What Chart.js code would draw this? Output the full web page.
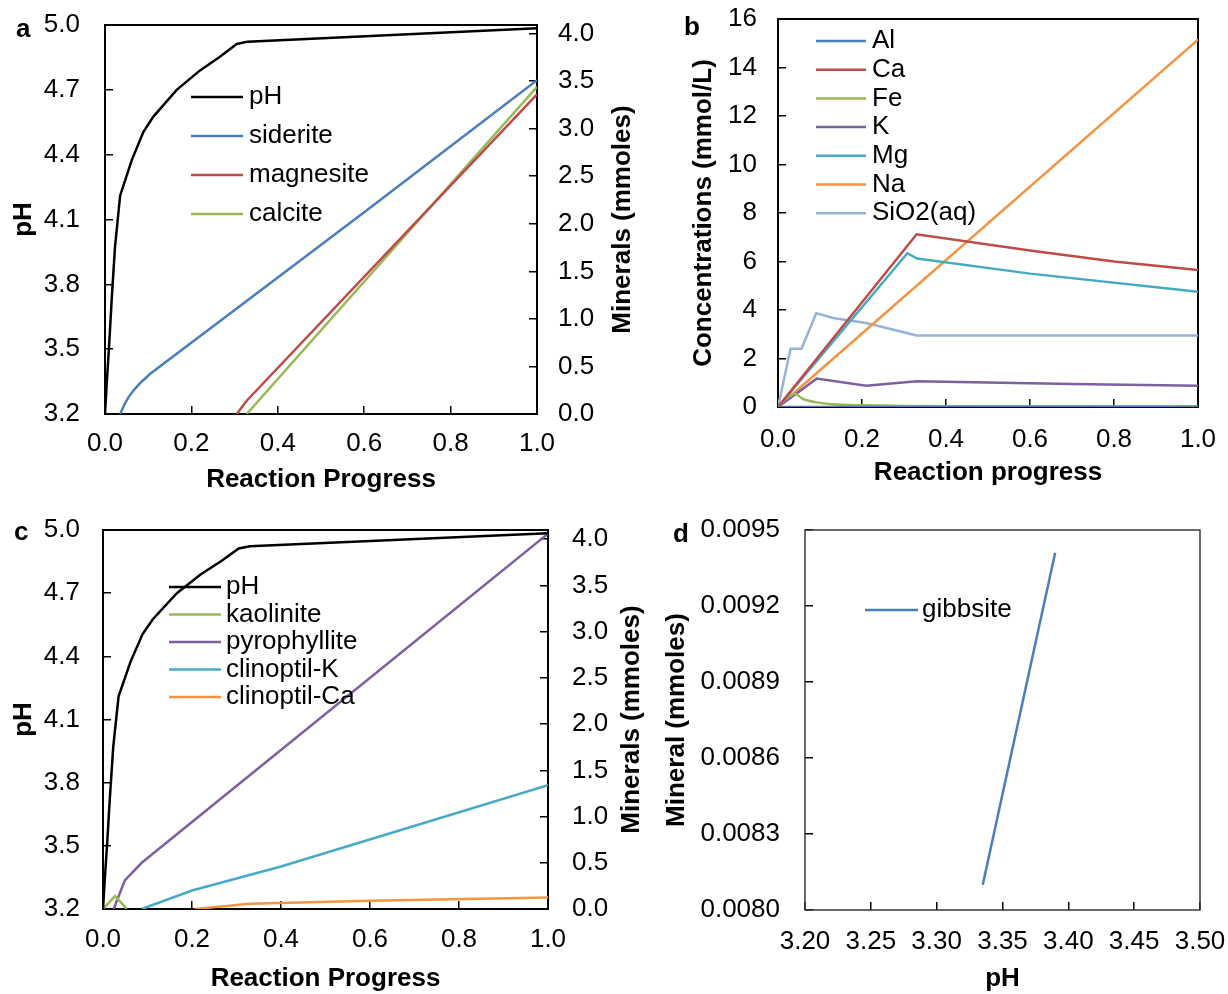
<!DOCTYPE html>
<html>
<head>
<meta charset="utf-8">
<title>Reaction progress</title>
<script src="https://cdn.jsdelivr.net/npm/chart.js@4.4.1/dist/chart.umd.min.js"></script>
<style>
  html, body { margin: 0; padding: 0; background: #fff; }
  #wrap { position: relative; width: 1228px; height: 994px; overflow: hidden; }
  #wrap canvas { position: absolute; left: 0; top: 0; }
</style>
</head>
<body>
<div id="wrap">
  <canvas id="panelA" width="1228" height="994"></canvas>
  <canvas id="panelB" width="1228" height="994"></canvas>
  <canvas id="panelC" width="1228" height="994"></canvas>
  <canvas id="panelD" width="1228" height="994"></canvas>
</div>
<script>
// pH along the reaction path (panels a and c)
const phProgress = [0, 0.004, 0.009, 0.0155, 0.023, 0.035, 0.062, 0.089, 0.112, 0.166, 0.22, 0.266, 0.305, 0.33, 1.0];
const phValues   = [3.2, 3.34, 3.50, 3.73, 3.97, 4.21, 4.375, 4.506, 4.576, 4.70, 4.79, 4.853, 4.912, 4.923, 4.985];

// a: carbonate minerals (mmoles)
const sideriteX  = [0.035, 0.04, 0.045, 0.055, 0.0655, 0.08, 0.104, 0.6, 1.0];
const sideriteY  = [0, 0.05, 0.1, 0.18, 0.245, 0.32, 0.42, 2.12, 3.51];
const magnesiteX = [0.305, 0.328, 1.0];
const magnesiteY = [0, 0.14, 3.36];
const calciteX   = [0.328, 1.0];
const calciteY   = [0, 3.44];

// b: dissolved concentrations (mmol/L)
const alX   = [0, 1.0];
const alY   = [0, 0.01];
const caX   = [0, 0.33, 0.6, 0.8, 1.0];
const caY   = [0, 7.12, 6.45, 6.0, 5.65];
const feX   = [0, 0.02, 0.04, 0.06, 0.1, 0.13, 0.2, 0.4, 1.0];
const feY   = [0, 0.35, 0.54, 0.33, 0.17, 0.11, 0.07, 0.03, 0.02];
const kX    = [0, 0.092, 0.21, 0.33, 0.7, 1.0];
const kY    = [0, 1.17, 0.88, 1.06, 0.95, 0.88];
const mgX   = [0, 0.308, 0.331, 0.6, 1.0];
const mgY   = [0, 6.34, 6.12, 5.5, 4.75];
const naX   = [0, 1.0];
const naY   = [0, 15.15];
const sio2X = [0, 0.03, 0.056, 0.091, 0.131, 0.21, 0.33, 1.0];
const sio2Y = [0, 2.4, 2.4, 3.87, 3.67, 3.46, 2.95, 2.95];

// c: silicate minerals (mmoles)
const kaoliniteX    = [0, 0.027, 0.05, 0.053];
const kaoliniteY    = [0, 0.14, 0.02, 0];
const pyrophylliteX = [0.024, 0.049, 0.087, 1.0];
const pyrophylliteY = [0, 0.31, 0.5, 4.06];
const clinoKX       = [0.087, 0.2, 0.4, 1.0];
const clinoKY       = [0, 0.2, 0.46, 1.34];
const clinoCaX      = [0.206, 0.33, 0.6, 1.0];
const clinoCaY      = [0, 0.058, 0.09, 0.125];

// d: gibbsite against pH
const gibbsitePH = [3.335, 3.39];
const gibbsiteY  = [0.0081, 0.00941];

const FONT = '"Liberation Sans", Arial, Helvetica, sans-serif';
Chart.defaults.font.family = FONT;
Chart.defaults.font.size = 26;
Chart.defaults.color = '#000';

const BLUE = '#4A7EBB', RED = '#BE4B48', GREEN = '#98B954', PURPLE = '#7D60A0',
      TEAL = '#46AAC5', ORANGE = '#F69240', LIGHTBLUE = '#95B3D7';

function pts(xs, ys) {
  return xs.map((x, i) => ({ x: x, y: ys[i] }));
}

function series(label, xs, ys, color, extra) {
  return Object.assign({
    label: label,
    data: pts(xs, ys),
    borderColor: color,
    backgroundColor: color,
    borderWidth: 2.5,
    pointRadius: 0,
    fill: false,
    tension: 0
  }, extra || {});
}

// fixed box size, and no label overhang pushed into the layout
function fixBox(s, key, size) {
  s[key] = size;
  s.paddingTop = s.paddingBottom = s.paddingLeft = s.paddingRight = 0;
}

// keep only ticks that sit a whole number of steps above min (drops a ragged max)
function onStep(min, step) {
  return s => {
    s.ticks = s.ticks.filter(t => {
      const n = (t.value - min) / step;
      return Math.abs(n - Math.round(n)) < 1e-6;
    });
  };
}

function xScale(o) {
  return {
    type: 'linear',
    position: 'bottom',
    min: o.min, max: o.max, bounds: 'data',
    ticks: { stepSize: o.step, padding: o.pad, autoSkip: false, maxRotation: 0,
             callback: v => v.toFixed(o.dec) },
    grid: { drawOnChartArea: false, tickLength: -8, color: '#000', lineWidth: 1.5 },
    border: { display: false },
    title: { display: true, text: o.title, font: { weight: 'bold' },
             padding: { top: 0, bottom: o.titlePad } },
    afterFit: s => fixBox(s, 'height', o.size)
  };
}

function yScale(o) {
  return {
    type: 'linear',
    position: o.position,
    min: o.min, max: o.max, bounds: 'data',
    ticks: { stepSize: o.step, padding: o.pad, autoSkip: false, includeBounds: false,
             callback: v => v.toFixed(o.dec) },
    grid: { drawOnChartArea: false, tickLength: -8, color: '#000', lineWidth: 1.5 },
    border: { display: false },
    title: { display: !!o.title, text: o.title || '', font: { weight: 'bold' },
             padding: { top: o.titlePad || 0, bottom: 0 } },
    afterBuildTicks: onStep(o.min, o.step),
    afterFit: s => fixBox(s, 'width', o.size)
  };
}

// frame, panel letter, rotated right-axis title and the inline legend
const decor = {
  id: 'decor',
  beforeDatasetsDraw(chart, args, opts) {
    const a = chart.chartArea, ctx = chart.ctx;
    ctx.save();
    ctx.strokeStyle = opts.frameColor;
    ctx.lineWidth = opts.frameWidth;
    ctx.strokeRect(a.left, a.top, a.right - a.left, a.bottom - a.top);
    ctx.restore();
  },
  afterDraw(chart, args, opts) {
    const ctx = chart.ctx, a = chart.chartArea;
    ctx.save();
    ctx.fillStyle = '#000';
    ctx.font = 'bold 26px ' + FONT;
    ctx.textAlign = 'left';
    ctx.textBaseline = 'alphabetic';
    ctx.fillText(opts.letter, opts.letterX, opts.letterY);

    if (opts.rightTitle) {
      ctx.save();
      ctx.translate(opts.rightTitleX, (a.top + a.bottom) / 2);
      ctx.rotate(-Math.PI / 2);
      ctx.textAlign = 'center';
      ctx.textBaseline = 'middle';
      ctx.fillText(opts.rightTitle, 0, 0);
      ctx.restore();
    }

    const lg = opts.legend;
    ctx.font = '26px ' + FONT;
    ctx.textBaseline = 'middle';
    chart.data.datasets.forEach((ds, i) => {
      const y = lg.top + i * lg.pitch;
      ctx.strokeStyle = ds.borderColor;
      ctx.lineWidth = 2.5;
      ctx.beginPath();
      ctx.moveTo(lg.x1, y);
      ctx.lineTo(lg.x2, y);
      ctx.stroke();
      ctx.fillText(ds.label, lg.textX, y);
    });
    ctx.restore();
  }
};

function baseOptions(layoutPadding, scales, decorOpts) {
  return {
    responsive: false,
    animation: false,
    devicePixelRatio: 1,
    events: [],
    layout: { padding: layoutPadding },
    scales: scales,
    plugins: {
      legend: { display: false },
      tooltip: { enabled: false },
      decor: Object.assign({ frameColor: '#000', frameWidth: 2 }, decorOpts)
    }
  };
}

// a
new Chart(document.getElementById('panelA'), {
  type: 'line',
  data: { datasets: [
    series('pH', phProgress, phValues, '#000', { yAxisID: 'y' }),
    series('siderite', sideriteX, sideriteY, BLUE, { yAxisID: 'y2' }),
    series('magnesite', magnesiteX, magnesiteY, RED, { yAxisID: 'y2' }),
    series('calcite', calciteX, calciteY, GREEN, { yAxisID: 'y2' })
  ]},
  options: baseOptions(
    { left: 0, top: 25, right: 614, bottom: 497 },
    {
      x: xScale({ min: 0, max: 1, step: 0.2, dec: 1, pad: 22.4, size: 83, title: 'Reaction Progress', titlePad: 1.4 }),
      y: yScale({ position: 'left', min: 3.2, max: 5.0, step: 0.3, dec: 1, pad: 33, size: 105, title: 'pH', titlePad: 8.4 }),
      y2: yScale({ position: 'right', min: 0, max: 4.09, step: 0.5, dec: 1, pad: 29, size: 77 })
    },
    { letter: 'a', letterX: 16, letterY: 37, rightTitle: 'Minerals (mmoles)', rightTitleX: 623,
      legend: { x1: 191, x2: 243, textX: 249, top: 97, pitch: 39 } }
  ),
  plugins: [decor]
});

// b
new Chart(document.getElementById('panelB'), {
  type: 'line',
  data: { datasets: [
    series('Al', alX, alY, BLUE),
    series('Ca', caX, caY, RED),
    series('Fe', feX, feY, GREEN, { cubicInterpolationMode: 'monotone' }),
    series('K', kX, kY, PURPLE),
    series('Mg', mgX, mgY, TEAL),
    series('Na', naX, naY, ORANGE),
    series('SiO2(aq)', sio2X, sio2Y, LIGHTBLUE)
  ]},
  options: baseOptions(
    { left: 614, top: 19, right: 30, bottom: 497 },
    {
      x: xScale({ min: 0, max: 1, step: 0.2, dec: 1, pad: 25.4, size: 90, title: 'Reaction progress', titlePad: 8.4 }),
      y: yScale({ position: 'left', min: 0, max: 16, step: 2, dec: 0, pad: 29, size: 164, title: 'Concentrations (mmol/L)', titlePad: 74.4 })
    },
    { letter: 'b', letterX: 684, letterY: 35,
      legend: { x1: 816, x2: 866, textX: 872, top: 41, pitch: 28.7 } }
  ),
  plugins: [decor]
});

// c
new Chart(document.getElementById('panelC'), {
  type: 'line',
  data: { datasets: [
    series('pH', phProgress, phValues, '#000', { yAxisID: 'y' }),
    series('kaolinite', kaoliniteX, kaoliniteY, GREEN, { yAxisID: 'y2' }),
    series('pyrophyllite', pyrophylliteX, pyrophylliteY, PURPLE, { yAxisID: 'y2' }),
    series('clinoptil-K', clinoKX, clinoKY, TEAL, { yAxisID: 'y2' }),
    series('clinoptil-Ca', clinoCaX, clinoCaY, ORANGE, { yAxisID: 'y2' })
  ]},
  options: baseOptions(
    { left: 0, top: 530, right: 614, bottom: 0 },
    {
      x: xScale({ min: 0, max: 1, step: 0.2, dec: 1, pad: 23.4, size: 85, title: 'Reaction Progress', titlePad: 0 }),
      y: yScale({ position: 'left', min: 3.2, max: 5.0, step: 0.3, dec: 1, pad: 31, size: 103, title: 'pH', titlePad: 8.4 }),
      y2: yScale({ position: 'right', min: 0, max: 4.1, step: 0.5, dec: 1, pad: 32, size: 66 })
    },
    { letter: 'c', letterX: 14, letterY: 540, rightTitle: 'Minerals (mmoles)', rightTitleX: 632,
      legend: { x1: 169, x2: 221, textX: 226, top: 587, pitch: 27.5 } }
  ),
  plugins: [decor]
});

// d
new Chart(document.getElementById('panelD'), {
  type: 'line',
  data: { datasets: [
    series('gibbsite', gibbsitePH, gibbsiteY, BLUE)
  ]},
  options: baseOptions(
    { left: 614, top: 530, right: 28, bottom: 0 },
    {
      x: xScale({ min: 3.2, max: 3.5, step: 0.05, dec: 2, pad: 24.4, size: 84, title: 'pH', titlePad: 0 }),
      y: yScale({ position: 'left', min: 0.008, max: 0.0095, step: 0.0003, dec: 4, pad: 33, size: 191, title: 'Mineral (mmoles)', titlePad: 47.4 })
    },
    { letter: 'd', letterX: 673, letterY: 542, frameColor: '#3a3a3a', frameWidth: 1.5,
      legend: { x1: 865, x2: 918, textX: 922, top: 610, pitch: 28 } }
  ),
  plugins: [decor]
});
</script>
</body>
</html>
